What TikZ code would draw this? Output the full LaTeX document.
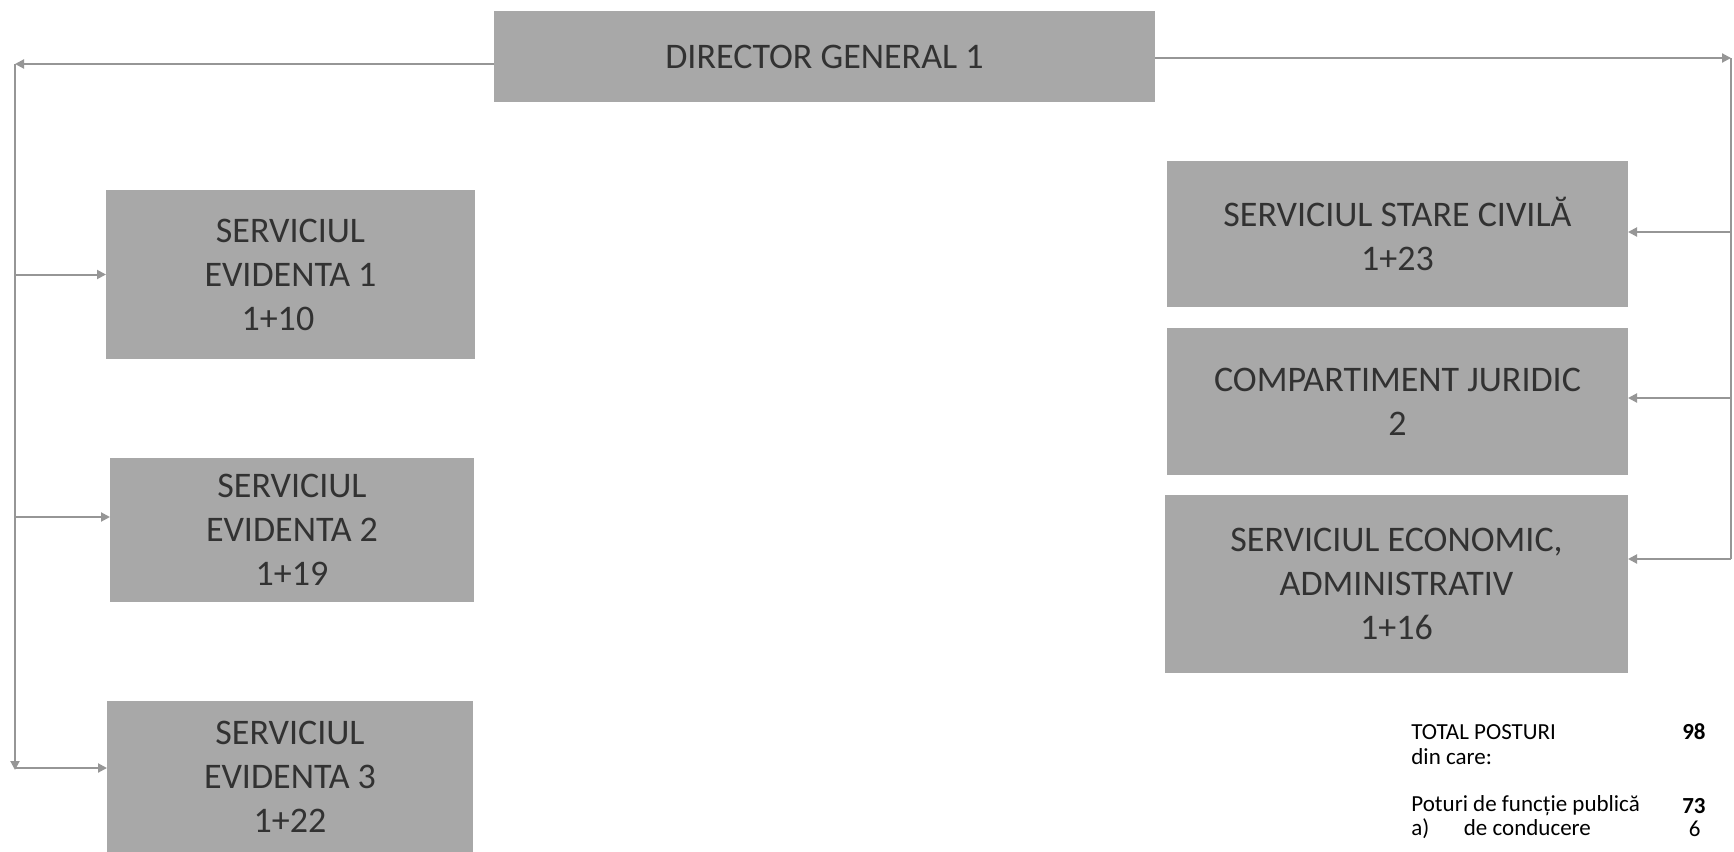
\documentclass[tikz,border=0pt]{standalone}
\usepackage{fontspec}
\setmainfont{Carlito}
\usetikzlibrary{arrows.meta}
\definecolor{boxfill}{RGB}{168,168,168}
\definecolor{boxtext}{RGB}{50,50,50}
\definecolor{linecol}{RGB}{150,150,150}
\tikzset{
  gbox/.style={rectangle, fill=boxfill, text=boxtext, inner sep=0pt, outer sep=0pt,
    align=center, font=\fontsize{18pt}{22pt}\selectfont},
  conn/.style={draw=linecol, line width=1pt},
  tipped/.style={conn, -{Triangle[length=4.5pt,width=4.5pt]}},
  note/.style={inner sep=0pt, text=black, font=\fontsize{11.5pt}{13pt}\selectfont}
}
\begin{document}
\begin{tikzpicture}[x=0.5pt,y=-0.5pt]
\useasboundingbox[fill=white] (0,0) rectangle (1734,851);
% boxes
\node[gbox, minimum width=330.5pt, minimum height=45.5pt] (dir) at (824.5,56.5) {DIRECTOR GENERAL 1};
\node[gbox, minimum width=184.5pt, minimum height=84.5pt] (ev1) at (290.5,274.5) {SERVICIUL\\EVIDENTA 1\\1+10\hspace*{0.7em}};
\node[gbox, minimum width=182pt, minimum height=72pt] (ev2) at (292,530) {SERVICIUL\\EVIDENTA 2\\1+19};
\node[gbox, minimum width=183pt, minimum height=75.5pt] (ev3) at (290,776.5) {SERVICIUL\\EVIDENTA 3\\1+22};
\node[gbox, minimum width=230.5pt, minimum height=73pt] (sc) at (1397.5,234) {SERVICIUL STARE CIVILĂ\\1+23};
\node[gbox, minimum width=230.5pt, minimum height=73.5pt] (jur) at (1397.5,401.5) {COMPARTIMENT JURIDIC\\2};
\node[gbox, minimum width=231.5pt, minimum height=89pt] (eco) at (1396.5,584) {SERVICIUL ECONOMIC,\\ADMINISTRATIV\\1+16};
% connector corners
\coordinate (tl) at (15,64);
\coordinate (bl) at (15,770);
\coordinate (e2) at (15,517);
\coordinate (e3) at (15,768);
\coordinate (tr) at (1731,58);
\coordinate (br) at (1731,559);
\coordinate (r1) at (1731,232);
\coordinate (r2) at (1731,398);
% left branch
\draw[tipped] (dir.west |- tl) -- (tl);
\draw[tipped] (tl) -- (bl);
\draw[tipped] (tl |- ev1.west) -- (ev1.west);
\draw[tipped] (e2) -- (ev2.west |- e2);
\draw[tipped] (e3) -- (ev3.west |- e3);
% right branch
\draw[tipped] (dir.east |- tr) -- (tr);
\draw[conn] (tr) -- (br);
\draw[tipped] (r1) -- (sc.east |- r1);
\draw[tipped] (r2) -- (jur.east |- r2);
\draw[tipped] (br) -- (eco.east |- br);
% totals
\node[note, anchor=west] (total) at (1411,732) {TOTAL POSTURI};
\node[note, anchor=east] (totn) at (1706,732) {\textbf{98}};
\node[note, anchor=west] (din) at (1411,757) {din care:};
\node[note, anchor=west] (pub) at (1411,806) {Poturi de funcție publică};
\node[note, anchor=east] (pubn) at (1706,806) {\textbf{73}};
\node[note, anchor=west] (cond) at (1411,829) {a)\hspace{1.5em}de conducere};
\node[note, anchor=east] (condn) at (1701,829) {6};
\end{tikzpicture}
\end{document}
